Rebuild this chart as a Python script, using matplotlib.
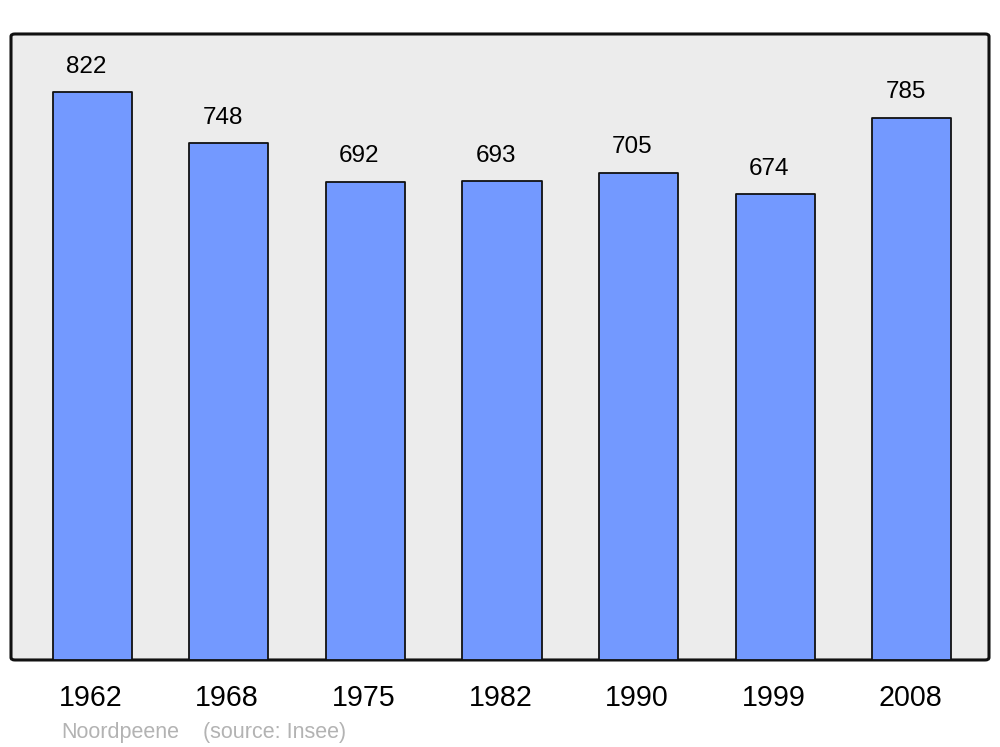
import matplotlib
matplotlib.use('Agg')
from matplotlib import pyplot as plt
from matplotlib.patches import FancyBboxPatch
from matplotlib.transforms import blended_transform_factory

years = ['1962', '1968', '1975', '1982', '1990', '1999', '2008']
population = [822, 748, 692, 693, 705, 674, 785]
commune = 'Noordpeene'
source = '(source: Insee)'

plt.rcParams['font.family'] = ['Liberation Sans', 'DejaVu Sans']

fig = plt.figure(figsize=(10, 7.47), dpi=100)
ax = fig.add_axes([0.011, 0.1165, 0.978, 0.838])
ax.set_xlim(-0.595, 6.565)
ax.set_ylim(0, 906)
ax.axis('off')

# rounded grey panel
panel = FancyBboxPatch((0, 0), 1, 1, boxstyle='round,pad=0,rounding_size=0.004',
                       transform=ax.transAxes, facecolor='#ececec',
                       edgecolor='#111111', linewidth=2.2, zorder=0, clip_on=False)
ax.add_patch(panel)

x = range(len(years))
bars = ax.bar(x, population, width=0.58, color='#7399ff', edgecolor='#111111',
              linewidth=1.3, zorder=2)
for b in bars:
    b.set_joinstyle('round')

for i, v in zip(x, population):
    ax.annotate(str(v), (i, v), xytext=(-4.5, 14), textcoords='offset points',
                ha='center', va='baseline', fontsize=17.5, color='black')

trans = blended_transform_factory(ax.transData, ax.transAxes)
for i, yr in zip(x, years):
    ax.text(i - 0.012, -0.073, yr, transform=trans, ha='center', va='baseline',
            fontsize=20.6, color='black')

fig.text(0.061, 0.012, commune, fontsize=15.5, color='#b3b3b3', va='baseline')
fig.text(0.203, 0.012, source, fontsize=15.5, color='#b3b3b3', va='baseline')

fig.savefig('out.png', dpi=100)
